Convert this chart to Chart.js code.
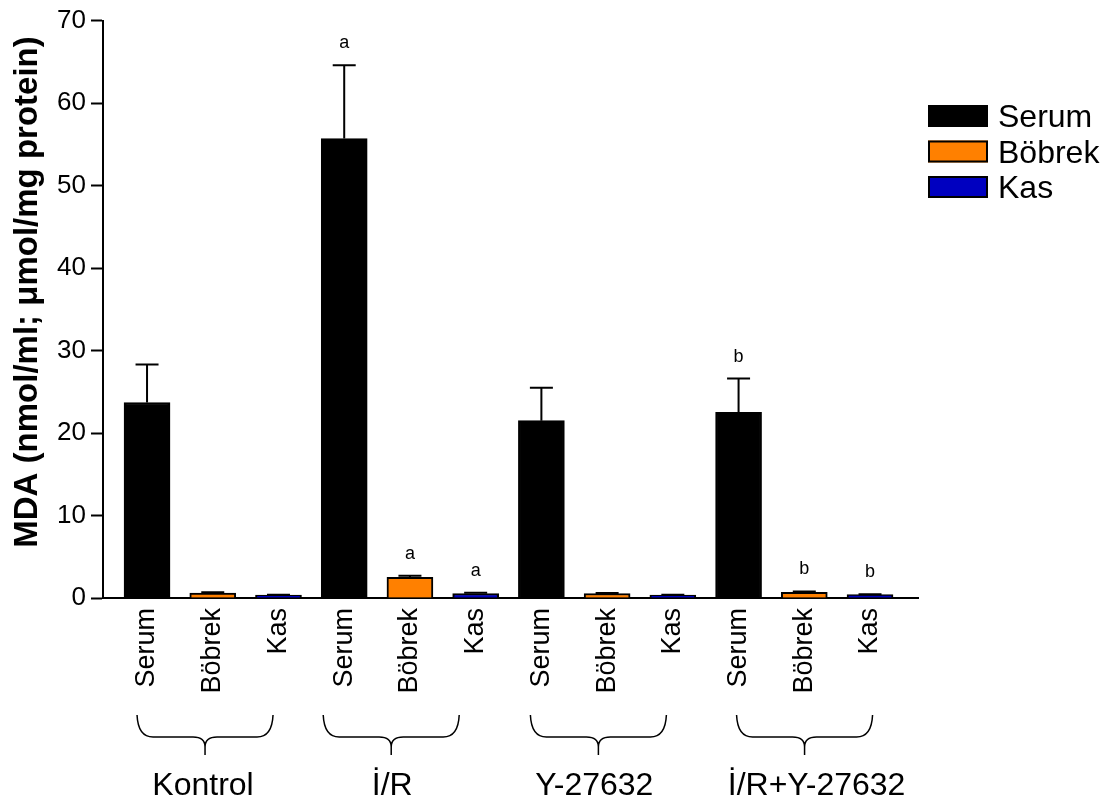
<!DOCTYPE html>
<html>
<head>
<meta charset="utf-8">
<script src="https://cdn.jsdelivr.net/npm/chart.js@4.4.0/dist/chart.umd.min.js"></script>
<style>
  html, body { margin: 0; padding: 0; background: #fff; }
  canvas { display: block; }
</style>
</head>
<body>
<canvas id="chart" width="1111" height="808"></canvas>
<script>
// Groups and tissues
const groups = ['Kontrol', 'İ/R', 'Y-27632', 'İ/R+Y-27632'];
const tissues = ['Serum', 'Böbrek', 'Kas'];

// MDA means and SEM per group
const serumMean = [23.7, 55.7, 21.5, 22.5];
const serumSem = [4.6, 8.9, 4.0, 4.1];
const bobrekMean = [0.6, 2.5, 0.55, 0.7];
const bobrekSem = [0.1, 0.2, 0.05, 0.1];
const kasMean = [0.35, 0.55, 0.35, 0.4];
const kasSem = [0.05, 0.1, 0.05, 0.05];

// Significance letters per group
const serumSig = ['', 'a', '', 'b'];
const bobrekSig = ['', 'a', '', 'b'];
const kasSig = ['', 'a', '', 'b'];

// Axis ticks and title
const yTickValues = [0, 10, 20, 30, 40, 50, 60, 70];
const yTitle = 'MDA (nmol/ml; μmol/mg protein)';

const FONT = '"Liberation Sans", Arial, Helvetica, sans-serif';

// tissue t of group g sits at x = g*3 + t
const toPoints = (vals, t) => vals.map((v, g) => ({ x: g * 3 + t, y: v }));
const tickPositions = [];
groups.forEach((_, g) => tissues.forEach((_, t) => tickPositions.push(g * 3 + t)));

// Layout tweaks for braces / group names (pixels)
const braceShift = [-10, -21, -11, -2];
const braceWidth = 136;
const labelShift = [-2, 1, -4, 12];

const annotate = {
  id: 'annotate',
  afterDatasetsDraw(chart) {
    const ctx = chart.ctx;
    const y = chart.scales.y;
    ctx.save();
    chart.data.datasets.forEach((ds, di) => {
      const meta = chart.getDatasetMeta(di);
      meta.data.forEach((bar, i) => {
        const top = y.getPixelForValue(ds.data[i].y + ds.sem[i]);
        ctx.strokeStyle = '#000';
        ctx.lineWidth = 2;
        ctx.beginPath();
        ctx.moveTo(bar.x, bar.y);
        ctx.lineTo(bar.x, top);
        ctx.moveTo(bar.x - 11.5, top);
        ctx.lineTo(bar.x + 11.5, top);
        ctx.stroke();
        if (ds.sig[i]) {
          ctx.fillStyle = '#000';
          ctx.font = '18px ' + FONT;
          ctx.textAlign = 'center';
          ctx.textBaseline = 'alphabetic';
          ctx.fillText(ds.sig[i], bar.x, top - 17);
        }
      });
    });
    ctx.restore();
  },
  afterDraw(chart) {
    const ctx = chart.ctx;
    const x = chart.scales.x;
    ctx.save();

    // curly braces + group names
    const yTop = 715, yMid = 737, yTip = 755;
    groups.forEach((name, g) => {
      const x1 = x.getPixelForValue(g * 3) + braceShift[g];
      const x2 = x1 + braceWidth;
      const xc = (x1 + x2) / 2;
      ctx.strokeStyle = '#000';
      ctx.lineWidth = 1.5;
      ctx.beginPath();
      ctx.moveTo(x1, yTop);
      ctx.quadraticCurveTo(x1 + 1, yMid, x1 + 16, yMid);
      ctx.lineTo(xc - 12, yMid);
      ctx.quadraticCurveTo(xc, yMid, xc, yMid + 10);
      ctx.lineTo(xc, yTip);
      ctx.moveTo(x2, yTop);
      ctx.quadraticCurveTo(x2 - 1, yMid, x2 - 16, yMid);
      ctx.lineTo(xc + 12, yMid);
      ctx.quadraticCurveTo(xc, yMid, xc, yMid + 10);
      ctx.stroke();

      ctx.fillStyle = '#000';
      ctx.font = '32px ' + FONT;
      ctx.textAlign = 'center';
      ctx.textBaseline = 'alphabetic';
      ctx.fillText(name, xc + labelShift[g], 795);
    });

    // legend
    chart.data.datasets.forEach((ds, i) => {
      const top = 105 + i * 35.5;
      ctx.fillStyle = ds.backgroundColor;
      ctx.fillRect(928, top, 60, 22);
      ctx.strokeStyle = '#000';
      ctx.lineWidth = 2;
      ctx.strokeRect(929, top + 1, 58, 20);
      ctx.fillStyle = '#000';
      ctx.font = '32px ' + FONT;
      ctx.textAlign = 'left';
      ctx.textBaseline = 'alphabetic';
      ctx.fillText(ds.label, 998, top + 22);
    });

    // y-axis title
    ctx.translate(37, 292);
    ctx.rotate(-Math.PI / 2);
    ctx.fillStyle = '#000';
    ctx.font = 'bold 33px ' + FONT;
    ctx.textAlign = 'center';
    ctx.textBaseline = 'alphabetic';
    ctx.fillText(yTitle, 0, 0);

    ctx.restore();
  }
};

const common = {
  barThickness: 46,
  grouped: false,
  borderColor: '#000',
  borderWidth: 2
};

new Chart(document.getElementById('chart'), {
  type: 'bar',
  data: {
    datasets: [
      { ...common, label: tissues[0], data: toPoints(serumMean, 0), sem: serumSem, sig: serumSig, backgroundColor: '#000000' },
      { ...common, label: tissues[1], data: toPoints(bobrekMean, 1), sem: bobrekSem, sig: bobrekSig, backgroundColor: '#ff8000' },
      { ...common, label: tissues[2], data: toPoints(kasMean, 2), sem: kasSem, sig: kasSig, backgroundColor: '#0000c0' }
    ]
  },
  options: {
    responsive: false,
    animation: false,
    devicePixelRatio: 1,
    layout: { padding: { left: 0, top: 17, right: 193, bottom: 0 } },
    plugins: { legend: { display: false }, tooltip: { enabled: false } },
    scales: {
      x: {
        type: 'linear',
        min: -0.67,
        max: 11.73,
        offset: false,
        grid: { display: false, drawTicks: false },
        border: { display: true, color: '#000', width: 2 },
        afterBuildTicks: s => { s.ticks = tickPositions.map(v => ({ value: v })); },
        ticks: {
          autoSkip: false,
          minRotation: 90,
          maxRotation: 90,
          padding: 10,
          color: '#000',
          font: { family: FONT, size: 27 },
          callback: v => tissues[Math.round(v) % 3]
        },
        afterFit: s => { s.height = 210; }
      },
      y: {
        min: 0,
        max: 70,
        afterBuildTicks: s => { s.ticks = yTickValues.map(v => ({ value: v })); },
        grid: { display: true, drawOnChartArea: false, drawTicks: true, tickLength: 12, tickWidth: 2, tickColor: '#000' },
        border: { display: true, color: '#000', width: 2 },
        ticks: { padding: 5, color: '#000', font: { family: FONT, size: 26 } },
        afterFit: s => { s.width = 103; }
      }
    }
  },
  plugins: [annotate]
});
</script>
</body>
</html>
